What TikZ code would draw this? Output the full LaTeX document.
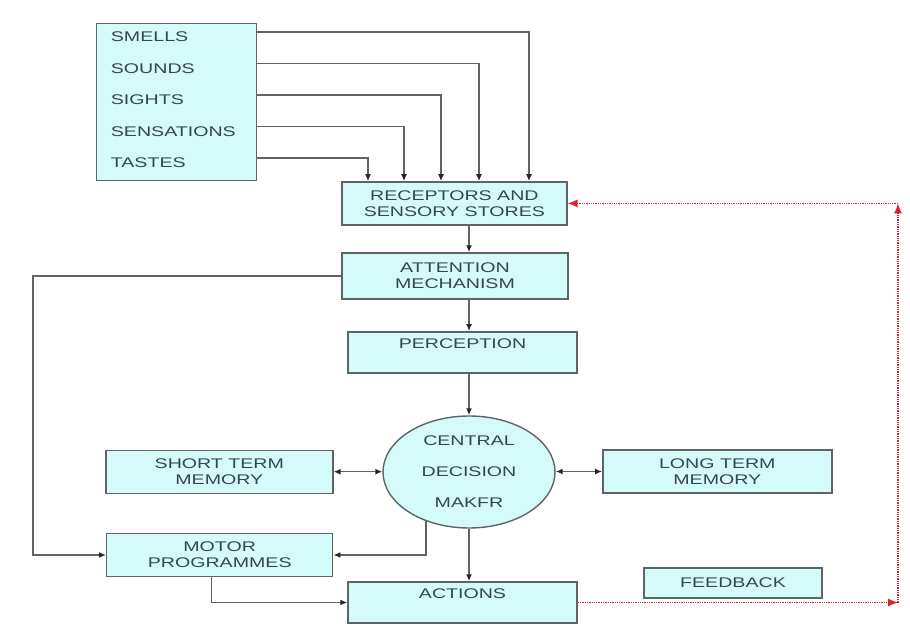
\documentclass[tikz,border=0pt]{standalone}
\usepackage{fontspec}
\setmainfont{Liberation Sans}[FakeStretch=1.4]
\usepackage{tikz}
\usetikzlibrary{arrows.meta,shapes.geometric}
\definecolor{CyanBox}{RGB}{212,250,250}
\definecolor{GreyLine}{RGB}{95,100,100}
\definecolor{GreyText}{RGB}{50,72,78}
\definecolor{RedFeedback}{RGB}{215,35,45}

\begin{document}
\begin{tikzpicture}[x=1pt, y=-1pt, >={Latex[length=7pt,width=6pt,color=black!85]},
    font=\fontsize{14}{16}\selectfont, text=GreyText,
    box/.style={draw=GreyLine, line width=1.4pt, fill=CyanBox, align=center, inner sep=0pt},
    toptext/.style={text depth=18pt},
    link/.style={->, GreyLine, line width=1.5pt},
    back/.style={-{Latex[length=10pt,width=8pt]}, RedFeedback, densely dotted, line width=1.3pt}]
    \useasboundingbox (0,0) rectangle (910,628);

    \node[box, minimum width=160pt, minimum height=157pt] (src) at (176.7,102) {};
    \node[anchor=west, inner sep=0pt] (smells) at (110.7,37) {SMELLS};
    \node[anchor=west, inner sep=0pt] (sounds) at (110.7,68.5) {SOUNDS};
    \node[anchor=west, inner sep=0pt] (sights) at (110.7,100) {SIGHTS};
    \node[anchor=west, inner sep=0pt] (sensations) at (110.7,131.5) {SENSATIONS};
    \node[anchor=west, inner sep=0pt] (tastes) at (110.7,163) {TASTES};

    \node[box, minimum width=225pt, minimum height=43pt] (rec) at (454.4,203.4) {RECEPTORS AND\\SENSORY STORES};
    \node[box, minimum width=226pt, minimum height=46pt] (att) at (455,276) {ATTENTION\\MECHANISM};
    \node[box, toptext, minimum width=229pt, minimum height=41pt] (per) at (462.5,352.3) {PERCEPTION};
    \node[box, ellipse, minimum width=172pt, minimum height=112pt] (cdm) at (469,472) {CENTRAL\\[15pt]DECISION\\[15pt]MAKFR};
    \node[box, minimum width=227pt, minimum height=43pt] (stm) at (219.3,471.7) {SHORT TERM\\MEMORY};
    \node[box, minimum width=229pt, minimum height=43pt] (ltm) at (717.3,471.5) {LONG TERM\\MEMORY};
    \node[box, minimum width=226pt, minimum height=43pt] (mot) at (219.7,555) {MOTOR\\PROGRAMMES};
    \node[box, toptext, minimum width=229pt, minimum height=41pt] (act) at (462.5,602.5) {ACTIONS};
    \node[box, minimum width=178pt, minimum height=30pt] (fb) at (733,583) {FEEDBACK};

    \foreach \sense/\xin in {smells/529, sounds/479, sights/441, sensations/404, tastes/368}
        \draw[link] (src.east |- \sense.north) -| (\xin,0 |- rec.north);

    \draw[link] (rec.south -| cdm) -- (att.north -| cdm);
    \draw[link] (att.south -| cdm) -- (per.north -| cdm);
    \draw[link] (per.south -| cdm) -- (cdm.north);
    \draw[link] (cdm.south) -- (act.north -| cdm);
    \draw[link, <->] (stm.east) -- (stm.east -| cdm.west);
    \draw[link, <->] (ltm.west -| cdm.east) -- (ltm.west);
    \draw[link] (cdm.-131) |- (mot.east);
    \draw[link] ([xshift=-8pt]mot.south) |- (act.west);
    \draw[link] (att.west) -- (33,0 |- att.west) |- (mot.west);

    \coordinate (fbLow) at (898,0 |- act.east);
    \coordinate (fbHigh) at (898,0 |- rec.east);
    \draw[back] (act.east) -- (fbLow);
    \draw[back] (fbLow) -- (fbHigh);
    \draw[back] (fbHigh) -- (rec.east);
\end{tikzpicture}
\end{document}
